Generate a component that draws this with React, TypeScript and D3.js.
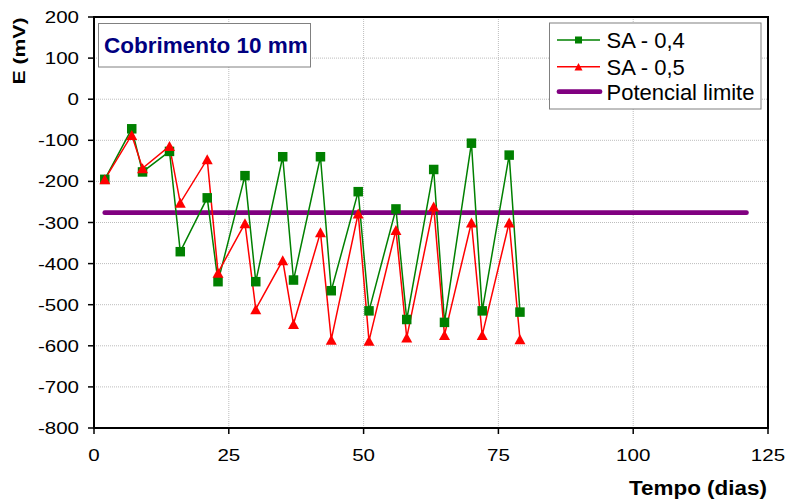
import React from "react";
import * as d3 from "d3";

const days = [2, 7, 9, 14, 16, 21, 23, 28, 30, 35, 37, 42, 44, 49, 51, 56, 58, 63, 65, 70, 72, 77, 79];
const sa04 = [-195, -72, -177, -127, -371, -240, -444, -186, -444, -140, -440, -140, -466, -225, -515, -267, -536, -171, -543, -107, -515, -136, -518];
const sa05 = [-195, -87, -168, -114, -252, -146, -422, -302, -511, -392, -547, -324, -585, -278, -588, -318, -580, -261, -574, -300, -574, -300, -584];
const limitDays = [2, 121];
const limitValue = -276;
const xTicks = [0, 25, 50, 75, 100, 125];
const yTicks = [200, 100, 0, -100, -200, -300, -400, -500, -600, -700, -800];
const seriesNames = ["SA - 0,4", "SA - 0,5", "Potencial limite"];
const chartTitle = "Cobrimento 10 mm";
const xTitle = "Tempo (dias)";
const yTitle = "E (mV)";

const W = 785, H = 502;
const L = 94, T = 17, R = 768, B = 428;
const FONT = "'Liberation Sans', Arial, sans-serif";
const GREEN = "#008000", RED = "#ff0000", PURPLE = "#800080";

export default function App() {
  const x = d3.scaleLinear().domain([0, 125]).range([L, R]);
  const y = d3.scaleLinear().domain([-800, 200]).range([B, T]);
  const line = d3.line<[number, number]>().x(d => x(d[0])).y(d => y(d[1]));
  const g04 = days.map((d, i) => [d, sa04[i]] as [number, number]);
  const g05 = days.map((d, i) => [d, sa05[i]] as [number, number]);
  const lim = limitDays.map(d => [d, limitValue] as [number, number]);
  const sq = (cx: number, cy: number, s: number, k: string) => (
    <rect key={k} x={cx - s / 2} y={cy - s / 2} width={s} height={s} fill={GREEN} />
  );
  const tri = (cx: number, cy: number, w: number, h: number, k: string) => (
    <path key={k} d={`M${cx},${cy - h / 2}L${cx + w / 2},${cy + h / 2}L${cx - w / 2},${cy + h / 2}Z`} fill={RED} />
  );
  const legRows = [40, 66.7, 91.7];
  return (
    <svg width={W} height={H} style={{ position: "absolute", left: 0, top: 0 }}>
      <rect x={0} y={0} width={W} height={H} fill="#fff" />
      {yTicks.map(t => (
        <line key={"gy" + t} x1={L} x2={R} y1={y(t)} y2={y(t)} stroke="#bdbdbd" strokeWidth={1} strokeDasharray="1,1" />
      ))}
      {xTicks.map(t => (
        <line key={"gx" + t} x1={x(t)} x2={x(t)} y1={T} y2={B} stroke="#bdbdbd" strokeWidth={1} strokeDasharray="1,1" />
      ))}
      {yTicks.map(t => (
        <line key={"ty" + t} x1={L - 6} x2={L} y1={y(t)} y2={y(t)} stroke="#000" strokeWidth={1.5} />
      ))}
      {xTicks.map(t => (
        <line key={"tx" + t} x1={x(t)} x2={x(t)} y1={B} y2={B + 6} stroke="#000" strokeWidth={1.5} />
      ))}
      <rect x={L} y={T} width={R - L} height={B - T} fill="none" stroke="#000" strokeWidth={2} />
      {yTicks.map(t => (
        <text key={"ly" + t} transform={`translate(79,${y(t) + 6}) scale(1.3,1)`} textAnchor="end" fontFamily={FONT} fontSize={15.8} fill="#000">{t}</text>
      ))}
      {xTicks.map(t => (
        <text key={"lx" + t} transform={`translate(${x(t)},461) scale(1.3,1)`} textAnchor="middle" fontFamily={FONT} fontSize={15.8} fill="#000">{t}</text>
      ))}
      <text transform="translate(25,51) rotate(-90) scale(1.3,1)" textAnchor="middle" fontFamily={FONT} fontWeight="bold" fontSize={16.3} fill="#000">{yTitle}</text>
      <text transform="translate(767,495) scale(1.07,1)" textAnchor="end" fontFamily={FONT} fontWeight="bold" fontSize={21} fill="#000">{xTitle}</text>
      <path d={line(lim) || ""} stroke={PURPLE} strokeWidth={4.8} strokeLinecap="round" fill="none" />
      <path d={line(g04) || ""} stroke={GREEN} strokeWidth={1.5} fill="none" />
      <path d={line(g05) || ""} stroke={RED} strokeWidth={1.5} fill="none" />
      {g04.map((p, i) => sq(x(p[0]), y(p[1]), 9.5, "s" + i))}
      {g05.map((p, i) => tri(x(p[0]), y(p[1]), 11, 10, "t" + i))}
      <rect x={98.5} y={23.5} width={212} height={43.5} fill="#fff" stroke="#808080" strokeWidth={1} />
      <text x={104} y={53} fontFamily={FONT} fontWeight="bold" fontSize={22.5} fill="#000080">{chartTitle}</text>
      <rect x={549.5} y={23} width={211.5} height={86} fill="#fff" stroke="#808080" strokeWidth={1} />
      <line x1={557} x2={600} y1={legRows[0]} y2={legRows[0]} stroke={GREEN} strokeWidth={1.5} />
      {sq(578.5, legRows[0], 7, "ls")}
      <line x1={557} x2={600} y1={legRows[1]} y2={legRows[1]} stroke={RED} strokeWidth={1.5} />
      {tri(578.5, legRows[1], 8, 7.5, "lt")}
      <line x1={559} x2={600} y1={legRows[2]} y2={legRows[2]} stroke={PURPLE} strokeWidth={4.8} strokeLinecap="round" />
      {seriesNames.map((n, i) => (
        <text key={n} x={606.5} y={legRows[i] + 7.8} fontFamily={FONT} fontSize={22} fill="#000">{n}</text>
      ))}
    </svg>
  );
}
